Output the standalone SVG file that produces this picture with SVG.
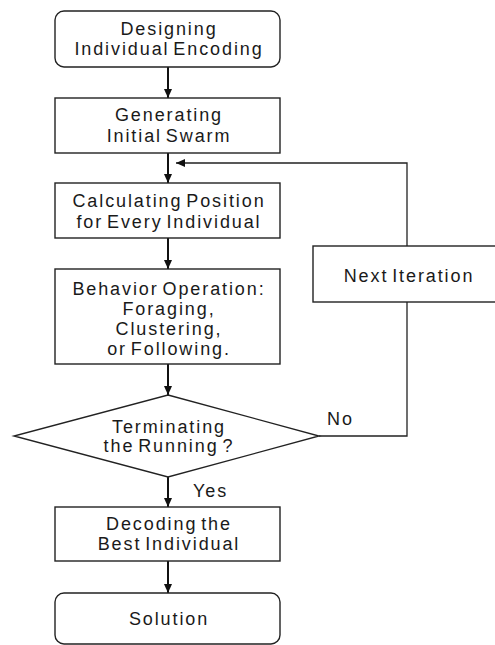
<svg xmlns="http://www.w3.org/2000/svg" width="495" height="645" viewBox="0 0 495 645">
<defs>
<style>
.box{fill:#fff;stroke:#222;stroke-width:1.4}
.ln{fill:none;stroke:#111;stroke-width:2}
.fb{fill:none;stroke:#222;stroke-width:1.3}
text{font-family:"Liberation Sans",Arial,sans-serif;font-size:18px;fill:#1a1a1a;letter-spacing:1.9px;word-spacing:-3px;text-anchor:middle}
.lbl{text-anchor:start}
</style>
<marker id="ah" markerWidth="10" markerHeight="10" refX="9" refY="4" orient="auto" markerUnits="userSpaceOnUse">
<path d="M0,0 L9,4 L0,8 Z" fill="#111"/>
</marker>
</defs>
<rect width="495" height="645" fill="#fff"/>
<g id="connectors">
<line class="ln" x1="168" y1="67" x2="168" y2="98" marker-end="url(#ah)"/>
<line class="ln" x1="168" y1="153" x2="168" y2="183" marker-end="url(#ah)"/>
<line class="ln" x1="168" y1="238" x2="168" y2="269" marker-end="url(#ah)"/>
<line class="ln" x1="168" y1="364" x2="168" y2="395" marker-end="url(#ah)"/>
<line class="ln" x1="168" y1="477" x2="168" y2="507" marker-end="url(#ah)"/>
<line class="ln" x1="168" y1="561" x2="168" y2="593" marker-end="url(#ah)"/>
<polyline class="fb" points="319,436 407,436 407,302"/>
<polyline class="fb" points="407,246 407,163 176,163" marker-end="url(#ah)"/>
<text class="lbl" x="327" y="425">No</text>
<text class="lbl" x="193" y="497">Yes</text>
</g>
<g id="n1">
<rect class="box" x="55" y="11" width="225" height="56" rx="9"/>
<text x="169" y="35">Designing</text>
<text x="169" y="55">Individual Encoding</text>
</g>
<g id="n2">
<rect class="box" x="55" y="98" width="225" height="55"/>
<text x="169" y="121">Generating</text>
<text x="169" y="142">Initial Swarm</text>
</g>
<g id="n3">
<rect class="box" x="55" y="183" width="225" height="55"/>
<text x="169" y="207">Calculating Position</text>
<text x="169" y="228">for Every Individual</text>
</g>
<g id="n4">
<rect class="box" x="55" y="269" width="225" height="95"/>
<text x="169" y="295">Behavior Operation:</text>
<text x="169" y="315">Foraging,</text>
<text x="169" y="335">Clustering,</text>
<text x="169" y="355">or Following.</text>
</g>
<g id="n5">
<polygon class="box" points="168,395 319,436 168,477 14,436"/>
<text x="169" y="433">Terminating</text>
<text x="169" y="452">the Running ?</text>
</g>
<g id="n6">
<rect class="box" x="313" y="246" width="190" height="56"/>
<text x="409" y="282">Next Iteration</text>
</g>
<g id="n7">
<rect class="box" x="55" y="507" width="225" height="54"/>
<text x="169" y="530">Decoding the</text>
<text x="169" y="550">Best Individual</text>
</g>
<g id="n8">
<rect class="box" x="55" y="593" width="225" height="51" rx="9"/>
<text x="169" y="625">Solution</text>
</g>
</svg>
